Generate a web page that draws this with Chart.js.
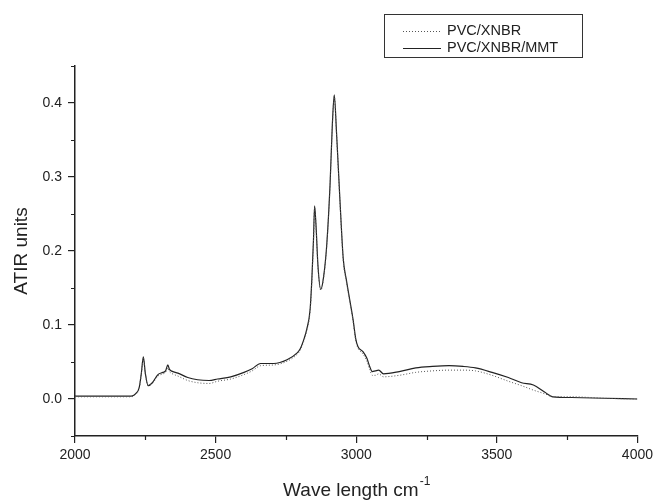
<!DOCTYPE html>
<html>
<head>
<meta charset="utf-8">
<script src="https://cdn.jsdelivr.net/npm/chart.js@4/dist/chart.umd.min.js"></script>
<style>
  html, body { margin: 0; padding: 0; background: #fff; }
  #wrap { width: 657px; height: 501px; }
</style>
</head>
<body>
<div id="wrap"><canvas id="c"></canvas></div>
<script>
// wavenumbers (cm-1) sampled along the spectra
const waveNumbers = [2000, 2100, 2200, 2215, 2228, 2236, 2243, 2250, 2260, 2275, 2295, 2313, 2322, 2330, 2336, 2342, 2366, 2401, 2436, 2477, 2507, 2554, 2601, 2630, 2660, 2707, 2754, 2789, 2801, 2815, 2824, 2836, 2842, 2848, 2852, 2857, 2864, 2874, 2884, 2895, 2907, 2915, 2922, 2930, 2942, 2954, 2965, 2977, 2989, 2998, 3006, 3024, 3038, 3048, 3057, 3068, 3080, 3097, 3153, 3212, 3271, 3330, 3380, 3424, 3483, 3541, 3588, 3630, 3671, 3700, 3765, 3882, 4000];

// PVC/XNBR (dotted)
const pvcXnbr = [0.003, 0.003, 0.003, 0.006, 0.014, 0.034, 0.055, 0.034, 0.018, 0.021, 0.031, 0.034, 0.036, 0.042, 0.037, 0.035, 0.031, 0.025, 0.022, 0.021, 0.024, 0.027, 0.033, 0.038, 0.045, 0.046, 0.051, 0.060, 0.066, 0.080, 0.092, 0.119, 0.158, 0.212, 0.258, 0.233, 0.178, 0.147, 0.164, 0.206, 0.289, 0.368, 0.409, 0.358, 0.268, 0.187, 0.159, 0.132, 0.105, 0.080, 0.069, 0.061, 0.051, 0.040, 0.032, 0.032, 0.034, 0.030, 0.032, 0.036, 0.038, 0.039, 0.039, 0.038, 0.032, 0.024, 0.018, 0.012, 0.007, 0.003, 0.003, 0.001, 0.000];

// PVC/XNBR/MMT (solid)
const pvcXnbrMmt = [0.004, 0.004, 0.004, 0.007, 0.015, 0.035, 0.057, 0.035, 0.018, 0.022, 0.033, 0.036, 0.038, 0.046, 0.040, 0.038, 0.035, 0.029, 0.026, 0.025, 0.027, 0.030, 0.036, 0.041, 0.048, 0.048, 0.053, 0.062, 0.068, 0.082, 0.094, 0.121, 0.160, 0.215, 0.261, 0.235, 0.180, 0.148, 0.165, 0.207, 0.290, 0.370, 0.411, 0.360, 0.270, 0.189, 0.161, 0.134, 0.107, 0.082, 0.071, 0.064, 0.055, 0.044, 0.037, 0.038, 0.039, 0.034, 0.037, 0.042, 0.044, 0.045, 0.044, 0.042, 0.036, 0.029, 0.022, 0.019, 0.009, 0.003, 0.002, 0.001, 0.000];

const xLabels = [2000, 2500, 3000, 3500, 4000];
const yLabels = [0.0, 0.1, 0.2, 0.3, 0.4];

const FONT = "'Liberation Sans', Arial, sans-serif";
const INK = "#222";

const toPoints = (ys) => ys.map((y, i) => ({ x: waveNumbers[i], y }));
const isXMajor = (v) => xLabels.includes(v);
const isYMajor = (v) => yLabels.some((l) => Math.abs(l - v) < 1e-6);

// minor ticks (shorter), legend frame and the x title with superscript
const extras = {
  id: "extras",
  afterDraw(chart) {
    const ctx = chart.ctx;
    const { x, y } = chart.scales;
    const area = chart.chartArea;
    ctx.save();
    ctx.strokeStyle = INK;
    ctx.lineWidth = 1.2;
    ctx.beginPath();
    x.ticks.forEach((t) => {
      if (isXMajor(t.value)) return;
      const px = Math.round(x.getPixelForValue(t.value)) + 0.5;
      ctx.moveTo(px, area.bottom);
      ctx.lineTo(px, area.bottom + 4);
    });
    y.ticks.forEach((t) => {
      if (isYMajor(t.value)) return;
      const py = Math.round(y.getPixelForValue(t.value)) + 0.5;
      ctx.moveTo(area.left, py);
      ctx.lineTo(area.left - 4, py);
    });
    ctx.stroke();

    // legend
    ctx.strokeStyle = "#333";
    ctx.lineWidth = 1;
    ctx.strokeRect(384.5, 14.5, 198, 43);
    ctx.font = "14.5px " + FONT;
    ctx.fillStyle = INK;
    ctx.textBaseline = "middle";
    chart.data.datasets.forEach((ds, i) => {
      const ly = 31 + i * 17;
      ctx.beginPath();
      ctx.setLineDash(ds.borderDash || []);
      ctx.strokeStyle = ds.borderColor;
      ctx.lineWidth = ds.borderWidth;
      ctx.moveTo(403, ly + 0.5);
      ctx.lineTo(441, ly + 0.5);
      ctx.stroke();
      ctx.setLineDash([]);
      ctx.fillText(ds.label, 447, ly);
    });

    // x title
    const cx = (area.left + area.right) / 2;
    const main = "Wave length cm";
    ctx.font = "19px " + FONT;
    const w1 = ctx.measureText(main).width;
    ctx.font = "12px " + FONT;
    const w2 = ctx.measureText("-1").width;
    const start = cx - (w1 + w2) / 2;
    ctx.textBaseline = "alphabetic";
    ctx.font = "19px " + FONT;
    ctx.fillText(main, start, 496);
    ctx.font = "12px " + FONT;
    ctx.fillText("-1", start + w1 + 1, 485);
    ctx.restore();
  }
};

new Chart(document.getElementById("c"), {
  type: "line",
  data: {
    datasets: [
      {
        label: "PVC/XNBR",
        data: toPoints(pvcXnbr),
        borderColor: "#555",
        borderWidth: 1,
        borderDash: [1, 2],
        pointRadius: 0,
        cubicInterpolationMode: "monotone",
        fill: false,
      },
      {
        label: "PVC/XNBR/MMT",
        data: toPoints(pvcXnbrMmt),
        borderColor: "#222",
        borderWidth: 1.2,
        pointRadius: 0,
        cubicInterpolationMode: "monotone",
        fill: false,
      },
    ],
  },
  options: {
    responsive: true,
    maintainAspectRatio: false,
    animation: false,
    layout: { padding: { top: 66, right: 16, left: 0, bottom: 0 } },
    plugins: {
      legend: { display: false },
      tooltip: { enabled: false },
    },
    scales: {
      x: {
        type: "linear",
        min: 2000,
        max: 4000,
        afterFit: (s) => { s.height = 65; },
        afterBuildTicks: (s) => {
          const t = [];
          for (let v = 2000; v <= 4000; v += 250) t.push({ value: v });
          s.ticks = t;
        },
        ticks: {
          autoSkip: false,
          maxRotation: 0,
          padding: 4,
          color: INK,
          font: { family: FONT, size: 14 },
          callback: (v) => (isXMajor(v) ? String(v) : ""),
        },
        grid: {
          drawOnChartArea: false,
          drawTicks: true,
          tickLength: 7,
          lineWidth: 1.2,
          tickColor: (c) => (c.tick && isXMajor(c.tick.value) ? INK : "rgba(0,0,0,0)"),
        },
        border: { display: true, color: INK, width: 1.5 },
      },
      y: {
        type: "linear",
        min: -0.05,
        max: 0.45,
        afterFit: (s) => { s.width = 75; },
        afterBuildTicks: (s) => {
          const t = [];
          for (let k = -1; k <= 9; k++) t.push({ value: k * 0.05 });
          s.ticks = t;
        },
        ticks: {
          autoSkip: false,
          padding: 6,
          color: INK,
          font: { family: FONT, size: 14 },
          callback: (v) => {
            const hit = yLabels.find((l) => Math.abs(l - v) < 1e-6);
            return hit === undefined ? "" : hit.toFixed(1);
          },
        },
        title: {
          display: true,
          text: "ATIR units",
          color: INK,
          font: { family: FONT, size: 19 },
          padding: { top: 10, bottom: 0 },
        },
        grid: {
          drawOnChartArea: false,
          drawTicks: true,
          tickLength: 7,
          lineWidth: 1.2,
          tickColor: (c) => (c.tick && isYMajor(c.tick.value) ? INK : "rgba(0,0,0,0)"),
        },
        border: { display: true, color: INK, width: 1.5 },
      },
    },
  },
  plugins: [extras],
});
</script>
</body>
</html>
